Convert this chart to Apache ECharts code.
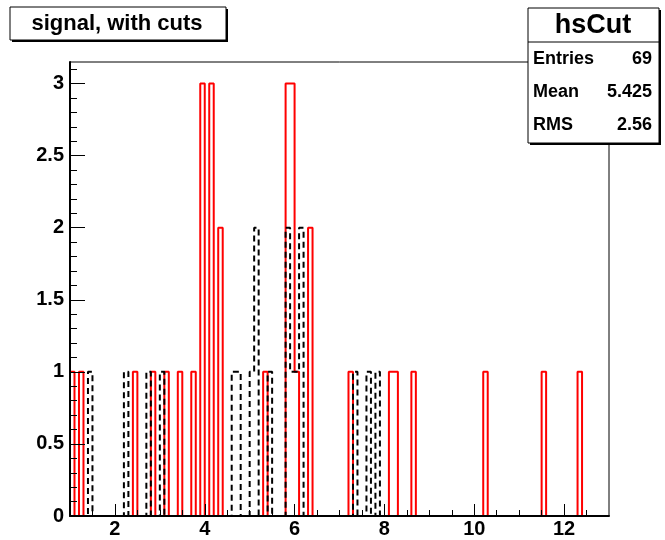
<!DOCTYPE html>
<html>
<head>
<meta charset="utf-8">
<script src="https://cdn.jsdelivr.net/npm/echarts@6/dist/echarts.min.js"></script>
<style>
html,body{margin:0;padding:0;background:#fff;}
#chart{width:665px;height:540px;}
</style>
</head>
<body>
<div id="chart"></div>
<script>
// ---- data (histogram bins: lower edge, counts; bin width 0.1 on [1,13]) ----
const xMin = 1, xMax = 13, binWidth = 0.1;
const redBinLow   = [1.0, 1.2, 2.4, 2.8, 3.1, 3.4, 3.7, 3.9, 4.1, 4.3, 5.3, 5.8, 5.9, 6.0, 6.3, 7.2, 8.1, 8.2, 8.6, 10.2, 11.5, 12.3];
const redCounts   = [1,   1,   1,   1,   1,   1,   1,   3,   3,   2,   1,   3,   3,   1,   2,   1,   1,   1,   1,   1,    1,    1];
const blackBinLow = [1.4, 2.2, 2.7, 3.0, 4.6, 4.7, 5.0, 5.1, 5.4, 5.8, 5.9, 6.0, 6.1, 7.3, 7.6, 7.8];
const blackCounts = [1,   1,   1,   1,   1,   1,   1,   2,   1,   2,   1,   1,   2,   1,   1,   1];

const xLabelValues = [2, 4, 6, 8, 10, 12];
const xMinorTicks  = [1.5, 2, 2.5, 3, 3.5, 4, 4.5, 5, 5.5, 6, 6.5, 7, 7.5, 8, 8.5, 9, 9.5, 10, 10.5, 11, 11.5, 12, 12.5];
const yLabelValues = [0, 0.5, 1, 1.5, 2, 2.5, 3];
const yMinorTicks  = [0.1, 0.2, 0.3, 0.4, 0.6, 0.7, 0.8, 0.9, 1.1, 1.2, 1.3, 1.4, 1.6, 1.7, 1.8, 1.9, 2.1, 2.2, 2.3, 2.4, 2.6, 2.7, 2.8, 2.9, 3.1];
const yMax = 3.15;

const titleText = 'signal, with cuts';
const statsName = 'hsCut';
const statsRows = [['Entries', '69'], ['Mean', '5.425'], ['RMS', '2.56']];

// build histogram outline (step) points from bins
function histPoints(lows, counts) {
  const n = Math.round((xMax - xMin) / binWidth);
  const vals = new Array(n).fill(0);
  lows.forEach((lo, i) => { vals[Math.round((lo - xMin) / binWidth)] = counts[i]; });
  const pts = [[xMin, 0]];
  for (let k = 0; k < n; k++) pts.push([+(xMin + k * binWidth).toFixed(4), vals[k]]);
  pts.push([xMax, 0]);
  return pts;
}

const FONT = 'Liberation Sans, Arial, Helvetica, sans-serif';
const chart = echarts.init(document.getElementById('chart'), null, {renderer: 'canvas'});

const option = {
  animation: false,
  backgroundColor: '#fff',
  grid: {left: 70, right: 56, top: 62, bottom: 24, show: true, borderColor: '#000', borderWidth: 1, backgroundColor: 'transparent'},
  xAxis: [
    {
      type: 'value', min: xMin, max: xMax, position: 'bottom', z: 5,
      axisLine: {show: true, onZero: false, lineStyle: {color: '#000', width: 2}},
      axisTick: {show: true, inside: true, length: 12, customValues: xLabelValues, lineStyle: {color: '#000', width: 1}},
      axisLabel: {show: true, customValues: xLabelValues, margin: 3, color: '#000', fontSize: 20, fontWeight: 'bold', fontFamily: FONT},
      splitLine: {show: false}
    },
    {
      type: 'value', min: xMin, max: xMax, position: 'bottom', z: 5,
      axisLine: {show: false},
      axisTick: {show: true, inside: true, length: 6, customValues: xMinorTicks, lineStyle: {color: '#000', width: 1}},
      axisLabel: {show: false},
      splitLine: {show: false}
    }
  ],
  yAxis: [
    {
      type: 'value', min: 0, max: yMax, position: 'left', z: 5,
      axisLine: {show: true, onZero: false, lineStyle: {color: '#000', width: 2}},
      axisTick: {show: true, inside: true, length: 15, customValues: yLabelValues, lineStyle: {color: '#000', width: 1}},
      axisLabel: {show: true, customValues: yLabelValues, margin: 6, color: '#000', fontSize: 20, fontWeight: 'bold', fontFamily: FONT},
      splitLine: {show: false}
    },
    {
      type: 'value', min: 0, max: yMax, position: 'left', z: 5,
      axisLine: {show: false},
      axisTick: {show: true, inside: true, length: 7, customValues: yMinorTicks, lineStyle: {color: '#000', width: 1}},
      axisLabel: {show: false},
      splitLine: {show: false}
    }
  ],
  series: [
    {
      type: 'line', name: 'red', step: 'end', symbol: 'none', z: 2,
      xAxisIndex: 0, yAxisIndex: 0,
      data: histPoints(redBinLow, redCounts),
      lineStyle: {color: '#ff0000', width: 2}
    },
    {
      type: 'line', name: 'black', step: 'end', symbol: 'none', z: 3,
      xAxisIndex: 0, yAxisIndex: 0,
      data: histPoints(blackBinLow, blackCounts),
      lineStyle: {color: '#000', width: 2, type: [6, 4]}
    }
  ],
  graphic: [
    // title pave
    {type: 'rect', z: 100, shape: {x: 12, y: 9, width: 216, height: 33}, style: {fill: '#000'}},
    {type: 'rect', z: 101, shape: {x: 10, y: 7, width: 216, height: 33}, style: {fill: '#fff', stroke: '#000', lineWidth: 1}},
    {type: 'text', z: 102, style: {x: 117, y: 24, text: titleText, font: 'bold 22px ' + FONT, fill: '#000', textAlign: 'center', textVerticalAlign: 'middle'}},
    // stats box
    {type: 'rect', z: 100, shape: {x: 530, y: 10, width: 131, height: 135}, style: {fill: '#000'}},
    {type: 'rect', z: 101, shape: {x: 528, y: 8, width: 131, height: 135}, style: {fill: '#fff', stroke: '#000', lineWidth: 1}},
    {type: 'line', z: 102, shape: {x1: 528, y1: 42, x2: 659, y2: 42}, style: {stroke: '#000', lineWidth: 1}},
    {type: 'text', z: 102, style: {x: 593, y: 26, text: statsName, font: 'bold 27px ' + FONT, fill: '#000', textAlign: 'center', textVerticalAlign: 'middle'}},
    ...statsRows.flatMap((r, i) => [
      {type: 'text', z: 102, style: {x: 533, y: 59 + i * 33, text: r[0], font: 'bold 18px ' + FONT, fill: '#000', textAlign: 'left', textVerticalAlign: 'middle'}},
      {type: 'text', z: 102, style: {x: 652, y: 59 + i * 33, text: r[1], font: 'bold 18px ' + FONT, fill: '#000', textAlign: 'right', textVerticalAlign: 'middle'}}
    ])
  ]
};
chart.setOption(option);
</script>
</body>
</html>
